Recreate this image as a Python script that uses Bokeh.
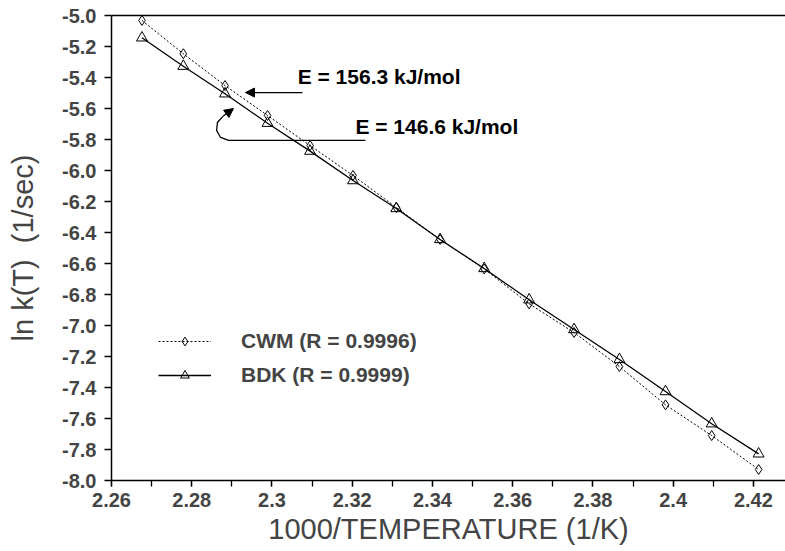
from bokeh.plotting import figure
from bokeh.models import (Range1d, LinearAxis, SingleIntervalTicker, FixedTicker, PrintfTickFormatter,
                          CustomJSTickFormatter, Legend, LegendItem, Label, Arrow, NormalHead)
from bokeh.embed import file_html
from bokeh.resources import INLINE

# ---- data ----
inv_temp = [2.2676, 2.2779, 2.2883, 2.2989, 2.3095, 2.3202, 2.3310, 2.3419,
            2.3529, 2.3641, 2.3753, 2.3866, 2.3981, 2.4096, 2.4213]
cwm_lnk = [-5.032, -5.247, -5.452, -5.645, -5.839, -6.032, -6.239, -6.445,
           -6.635, -6.860, -7.045, -7.265, -7.512, -7.710, -7.929]
bdk_lnk = [-5.144, -5.327, -5.505, -5.695, -5.875, -6.065, -6.245, -6.445,
           -6.632, -6.834, -7.026, -7.219, -7.426, -7.634, -7.828]
cwm_label = "CWM (R = 0.9996)"
bdk_label = "BDK (R = 0.9999)"

# annotation texts and positions (data units)
e1_text, e1_x, e1_y = "E = 156.3 kJ/mol", 2.3064, -5.394
e2_text, e2_x, e2_y = "E = 146.6 kJ/mol", 2.3208, -5.716
arrow1_x = [2.3076, 2.2934]
arrow1_y = [-5.497, -5.497]
curve_x = [2.3233, 2.2892, 2.2872, 2.2862, 2.2864, 2.2877]
curve_y = [-5.806, -5.806, -5.787, -5.742, -5.690, -5.652]
curve_head_x = [2.2877, 2.2904]
curve_head_y = [-5.652, -5.600]

FONT = "Liberation Sans"

p = figure(width=785, height=551, output_backend="svg", toolbar_location=None,
           x_range=Range1d(2.26, 2.428), y_range=Range1d(-8.0, -5.0),
           min_border_left=111, min_border_top=15, min_border_right=0, min_border_bottom=71)
p.outline_line_color = None
p.grid.visible = False
p.background_fill_color = "white"

# x axis
xa = p.xaxis[0]
xa.ticker = SingleIntervalTicker(interval=0.02, num_minor_ticks=2)
xa.formatter = CustomJSTickFormatter(code="return (Math.round(tick*100)/100).toString();")
xa.axis_label = "1000/TEMPERATURE (1/K)"
xa.axis_label_text_font = FONT
xa.axis_label_text_font_size = "29px"
xa.axis_label_text_font_style = "normal"
xa.axis_label_standoff = 3
xa.major_label_text_font = FONT
xa.major_label_text_font_size = "20px"
xa.major_label_text_font_style = "bold"
xa.major_label_standoff = 6
xa.major_tick_in = 0
xa.major_tick_out = 6
xa.minor_tick_in = 0
xa.minor_tick_out = 6
xa.axis_line_width = 1.5
xa.major_tick_line_width = 1.3
xa.minor_tick_line_width = 1.3

# y axis
ya = p.yaxis[0]
ya.ticker = SingleIntervalTicker(interval=0.2, num_minor_ticks=0)
ya.formatter = PrintfTickFormatter(format="%.1f")
ya.axis_label = "ln k(T)\u00a0\u00a0(1/sec)"
ya.axis_label_text_font = FONT
ya.axis_label_text_font_size = "29px"
ya.axis_label_text_font_style = "normal"
ya.axis_label_standoff = 20
ya.major_label_text_font = FONT
ya.major_label_text_font_size = "20px"
ya.major_label_text_font_style = "bold"
ya.major_label_standoff = 8
ya.major_tick_in = 0
ya.major_tick_out = 7
ya.minor_tick_out = 0
ya.axis_line_width = 1.5
ya.major_tick_line_width = 1.3

# top border line
top = LinearAxis(ticker=FixedTicker(ticks=[]), major_tick_in=0, major_tick_out=0,
                 minor_tick_in=0, minor_tick_out=0, major_label_standoff=0,
                 axis_line_width=1.5)
p.add_layout(top, "above")

# series
cwm_line = p.line(inv_temp, cwm_lnk, line_color="black", line_width=1, line_dash="2 2")
cwm_pts = p.scatter(inv_temp, cwm_lnk, marker="diamond", size=10, line_color="black",
                    fill_color=None, line_width=1)
bdk_line = p.line(inv_temp, bdk_lnk, line_color="black", line_width=1.3)
bdk_pts = p.scatter(inv_temp, bdk_lnk, marker="triangle", size=11, line_color="black",
                    fill_color=None, line_width=1)

legend = Legend(items=[LegendItem(label=cwm_label, renderers=[cwm_line, cwm_pts]),
                       LegendItem(label=bdk_label, renderers=[bdk_line, bdk_pts])],
                location=(47, 93), padding=0, margin=0, spacing=10,
                glyph_width=53, glyph_height=22, label_height=22, label_standoff=30,
                label_text_font=FONT, label_text_font_size="21px",
                label_text_font_style="bold", border_line_color=None,
                background_fill_alpha=0)
p.add_layout(legend)

# annotations
for txt, x, y in [(e1_text, e1_x, e1_y), (e2_text, e2_x, e2_y)]:
    p.add_layout(Label(x=x, y=y, text=txt, text_baseline="middle", text_align="left",
                       text_font=FONT, text_font_size="21px", text_font_style="bold",
                       text_color="black"))

p.add_layout(Arrow(x_start=arrow1_x[0], y_start=arrow1_y[0], x_end=arrow1_x[1], y_end=arrow1_y[1],
                   line_width=1.3, end=NormalHead(size=9, fill_color="black", line_color="black")))
p.line(curve_x, curve_y, line_color="black", line_width=1.3)
p.add_layout(Arrow(x_start=curve_head_x[0], y_start=curve_head_y[0], x_end=curve_head_x[1],
                   y_end=curve_head_y[1], line_width=1.3,
                   end=NormalHead(size=9, fill_color="black", line_color="black")))

open("out.html", "w").write(file_html(p, INLINE))
